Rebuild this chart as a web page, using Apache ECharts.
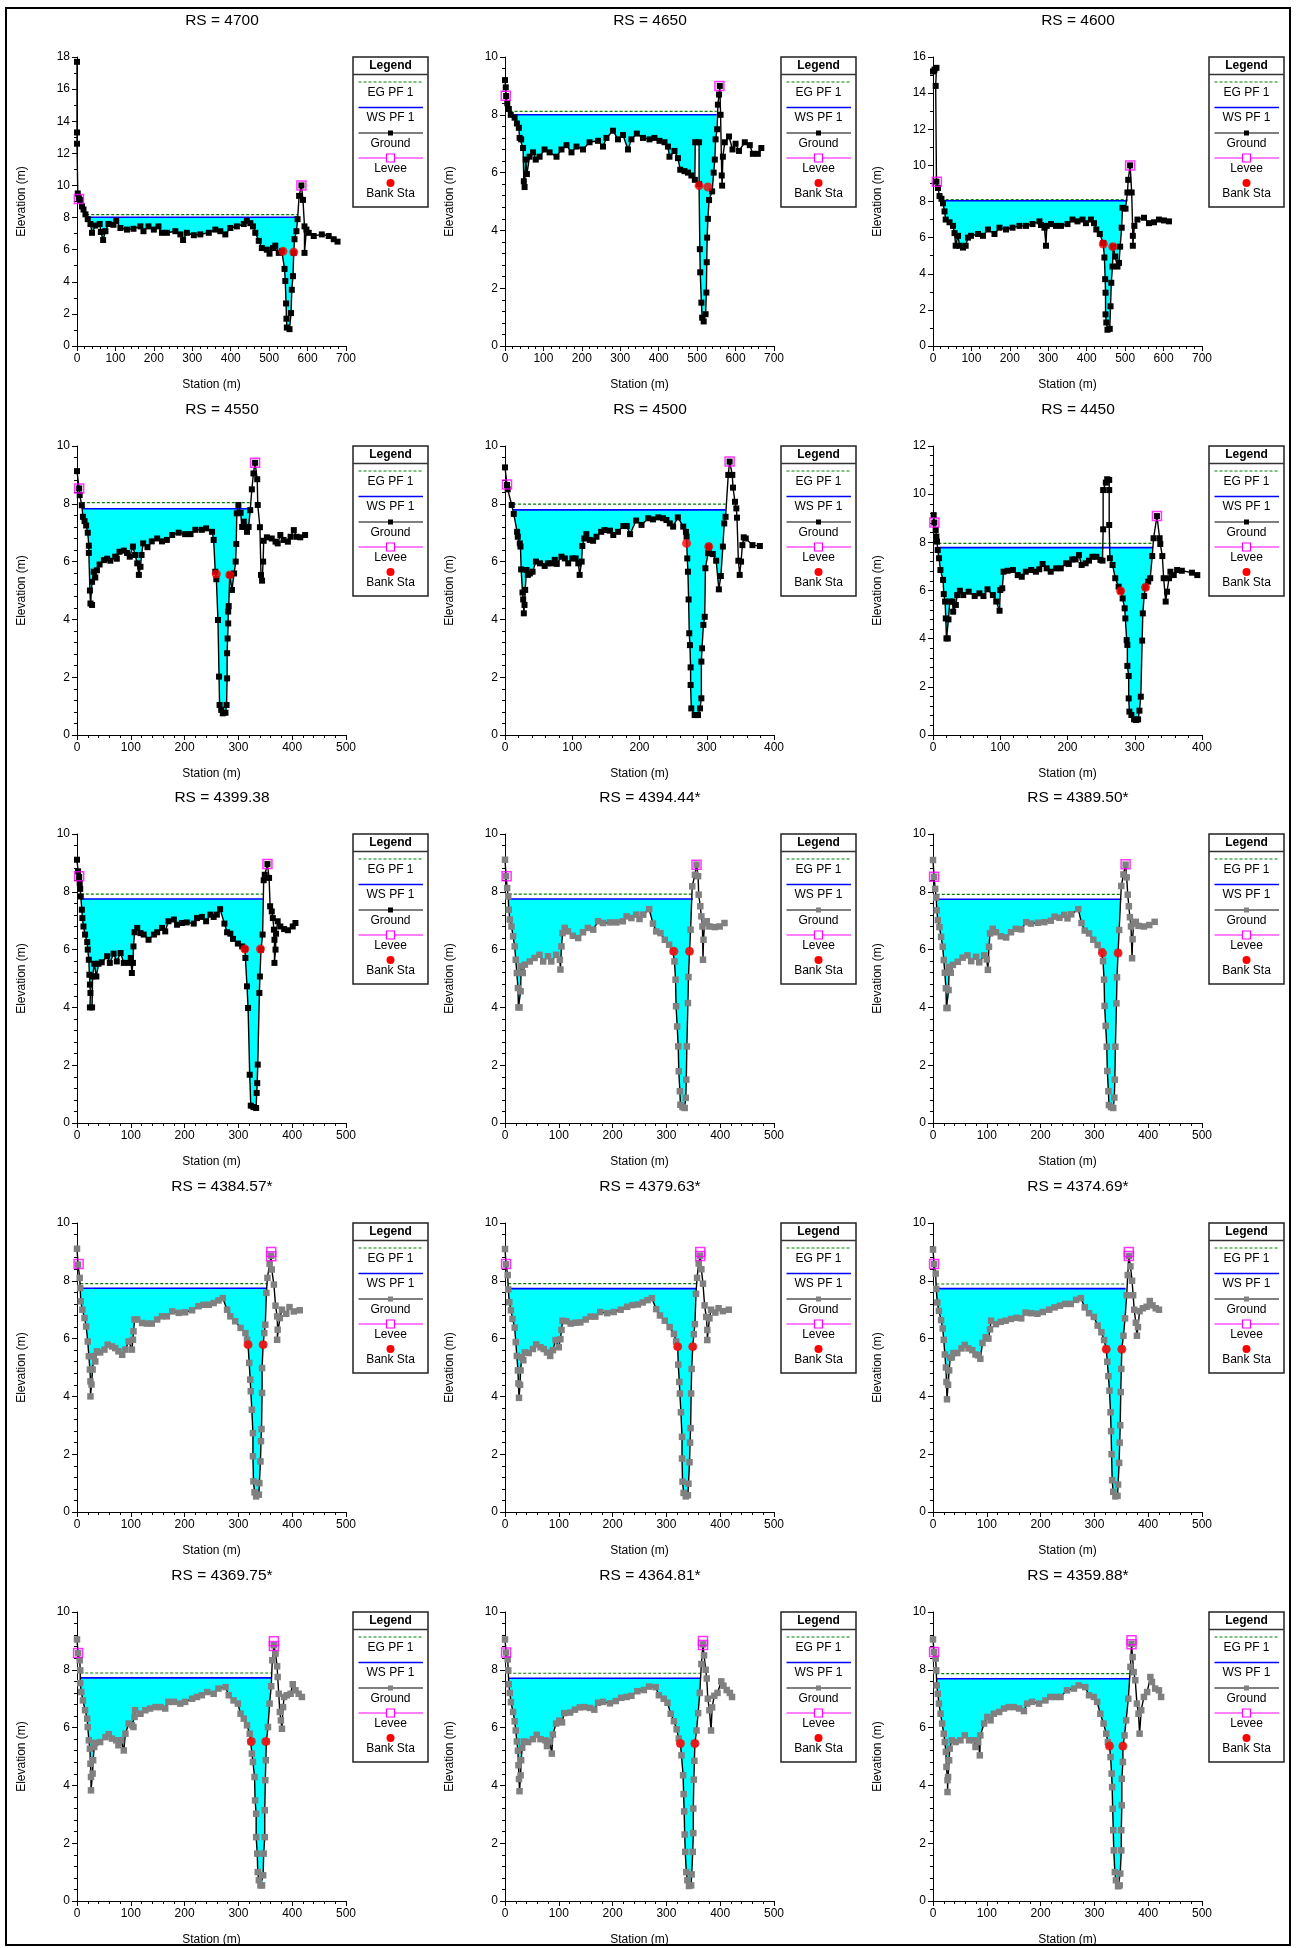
<!DOCTYPE html>
<html><head><meta charset="utf-8">
<script src="https://cdn.jsdelivr.net/npm/echarts@6/dist/echarts.min.js"></script>
<style>html,body{margin:0;padding:0;background:#fff}#c{width:1297px;height:1948px}</style>
</head><body><div id="c"></div>
<script>
// ---------------- DATA ----------------
const titles = ['RS = 4700','RS = 4650','RS = 4600','RS = 4550','RS = 4500','RS = 4450','RS = 4399.38','RS = 4394.44*','RS = 4389.50*','RS = 4384.57*','RS = 4379.63*','RS = 4374.69*','RS = 4369.75*','RS = 4364.81*','RS = 4359.88*'];
const xMaxes = [700,700,700,500,400,400,500,500,500,500,500,500,500,500,500];
const yMaxes = [18,10,16,10,10,12,10,10,10,10,10,10,10,10,10];
const xTicks = [0,100,200,300,400,500,600,700];
const wsLevels = [8.02,8.0,8.04,7.83,7.79,7.78,7.75,7.75,7.74,7.74,7.73,7.73,7.72,7.71,7.69];
const egLevels = [8.18,8.12,8.1,8.04,7.99,7.96,7.92,7.92,7.91,7.9,7.9,7.89,7.89,7.88,7.87];
const wsLefts  = [24,12,20,9,12,8,7,7,7,6,6,6,6,6,6];
const wsRights = [575,551,506,325,328,327,347,349,350,353,356,358,362,363,365];
const interpolated = [false,false,false,false,false,false,false,true,true,true,true,true,true,true,true];

const ground_4700 = [[0,17.7],[0,13.3],[0,12.6],[2,9.5],[5,9.2],[9,9.1],[13,8.7],[17,8.5],[22,8.2],[28,7.9],[35,7.6],[39,7.05],[48,7.5],[59,7.6],[62,7.1],[68,6.6],[74,7.15],[82,7.6],[95,7.55],[102,7.8],[113,7.35],[130,7.25],[147,7.3],[165,7.45],[173,7.15],[186,7.45],[200,7.25],[212,7.45],[221,7.05],[234,7.05],[256,7.15],[269,6.95],[276,6.6],[286,7.05],[304,6.9],[321,6.95],[343,7.05],[360,7.25],[373,7.15],[386,6.95],[399,7.35],[416,7.45],[434,7.6],[442,7.8],[451,7.65],[458,7.45],[464,7.05],[473,6.55],[481,6.1],[494,6.0],[501,5.75],[510,6.1],[516,6.25],[525,5.8],[533,5.9],[540,4.8],[542,4.05],[544,2.65],[545,1.7],[546,1.15],[553,1.05],[557,2.05],[559,3.5],[562,4.35],[564,5.8],[566,6.65],[571,7.15],[574,7.9],[578,9.35],[584,10.0],[588,9.1],[592,7.45],[592,5.8],[597,7.25],[603,7.05],[616,6.85],[637,6.95],[655,6.85],[668,6.65],[678,6.5]];
const ground_4650 = [[0,9.2],[2,8.95],[3,8.65],[6,8.4],[10,8.2],[15,8.0],[25,7.9],[31,7.7],[36,7.55],[38,7.2],[42,7.15],[47,6.85],[49,5.7],[51,5.5],[54,6.45],[57,5.95],[64,6.55],[73,6.7],[80,6.45],[90,6.55],[103,6.8],[116,6.7],[134,6.55],[147,6.8],[160,6.95],[173,6.7],[186,6.9],[203,6.8],[220,7.05],[242,7.1],[255,6.9],[264,7.2],[281,7.45],[294,7.15],[307,7.3],[320,6.8],[329,7.15],[343,7.35],[359,7.2],[376,7.15],[389,7.2],[402,7.1],[415,7.05],[424,6.9],[428,6.55],[441,6.75],[450,6.5],[456,6.1],[467,6.05],[476,6.0],[485,5.9],[494,5.75],[495,7.05],[505,7.05],[505,5.6],[507,3.35],[508,2.55],[511,1.5],[513,0.98],[517,0.85],[522,1.1],[524,1.85],[525,2.9],[526,3.75],[528,4.4],[531,5.05],[539,5.35],[543,6.0],[546,6.45],[548,7.15],[552,7.5],[554,8.35],[557,8.7],[559,9.0],[561,8.0],[564,5.9],[565,5.55],[567,6.55],[572,7.05],[583,7.25],[592,6.8],[600,7.0],[609,6.75],[624,7.05],[637,6.95],[645,6.65],[658,6.65],[667,6.85]];
const ground_4600 = [[0,15.2],[4,15.3],[9,15.4],[7,14.4],[9,9.1],[13,8.75],[17,8.3],[22,8.15],[26,7.9],[30,7.45],[33,7.0],[43,6.85],[52,6.65],[56,6.25],[59,5.55],[65,6.1],[69,5.55],[78,5.45],[85,5.55],[91,6.0],[99,6.1],[117,6.2],[130,6.1],[143,6.45],[160,6.2],[173,6.55],[190,6.45],[207,6.55],[225,6.65],[242,6.65],[259,6.75],[277,6.9],[281,6.7],[290,6.55],[294,5.55],[296,6.65],[307,6.75],[320,6.65],[333,6.65],[350,6.75],[363,7.0],[376,6.9],[389,7.0],[398,6.8],[411,7.0],[419,6.8],[425,6.45],[434,6.2],[443,5.7],[446,4.9],[448,3.7],[449,2.95],[449,1.75],[451,1.3],[454,0.9],[460,0.95],[462,2.2],[464,3.5],[467,4.4],[469,5.5],[474,4.95],[480,4.4],[484,4.6],[487,5.5],[491,6.55],[493,7.65],[501,7.6],[506,8.5],[508,9.2],[513,10.0],[517,8.5],[520,6.1],[520,5.55],[524,6.65],[532,7.0],[549,7.1],[562,6.8],[575,6.85],[588,7.0],[601,6.95],[614,6.9]];
const ground_4550 = [[0,9.13],[4,8.53],[5,8.3],[9,7.95],[11,7.55],[14,7.4],[17,7.25],[20,7.0],[22,6.55],[22,6.3],[24,5.0],[25,4.55],[28,4.5],[28,5.3],[31,5.65],[34,5.45],[37,5.7],[42,5.9],[50,6.05],[56,6.1],[62,6.03],[71,6.17],[74,6.1],[79,6.34],[87,6.38],[93,6.3],[98,6.17],[104,6.52],[108,6.23],[112,5.94],[115,5.54],[118,5.82],[120,6.23],[123,6.63],[131,6.5],[139,6.7],[149,6.8],[158,6.7],[167,6.75],[177,6.92],[189,7.0],[201,6.95],[211,6.95],[220,7.1],[232,7.1],[240,7.15],[251,7.03],[254,6.75],[257,5.65],[259,5.39],[262,3.98],[264,2.02],[265,1.04],[268,0.87],[271,0.75],[276,0.77],[278,1.04],[279,1.96],[279,2.83],[280,3.34],[281,3.86],[281,4.27],[282,4.46],[284,5.54],[288,5.02],[292,5.59],[295,6.0],[296,6.61],[297,7.67],[300,7.96],[304,7.69],[307,7.2],[310,7.38],[313,7.2],[316,7.03],[319,7.2],[322,7.78],[325,8.5],[328,9.05],[331,9.42],[335,8.85],[336,7.96],[340,7.19],[342,5.54],[344,5.34],[346,6.0],[347,6.72],[353,6.84],[362,6.8],[369,6.69],[373,6.63],[378,6.92],[384,6.75],[392,6.69],[397,6.86],[403,7.09],[408,6.86],[415,6.84],[424,6.92]];
const ground_4500 = [[0,9.26],[3,8.65],[4,8.5],[10,7.96],[13,7.65],[18,7.03],[19,6.86],[22,6.63],[23,6.52],[24,5.73],[26,4.93],[27,4.69],[28,4.21],[29,4.5],[30,5.02],[32,5.71],[34,5.54],[37,5.59],[41,5.65],[46,6.0],[52,5.94],[59,5.85],[64,5.94],[69,5.94],[74,6.06],[77,5.92],[84,6.17],[89,6.11],[94,5.94],[100,6.11],[105,6.11],[109,5.94],[111,5.54],[114,6.0],[115,6.54],[118,6.8],[121,6.95],[126,6.75],[131,6.72],[136,6.86],[143,7.03],[148,7.09],[156,7.07],[161,6.92],[168,7.03],[176,7.23],[181,7.23],[186,6.95],[195,7.42],[203,7.27],[213,7.5],[220,7.46],[228,7.53],[235,7.5],[240,7.44],[245,7.32],[250,7.21],[257,7.53],[265,7.21],[269,7.03],[270,6.86],[271,6.11],[272,5.65],[273,4.69],[274,3.52],[275,3.11],[276,2.34],[276,1.73],[277,0.92],[282,0.69],[287,0.69],[290,0.92],[292,1.27],[292,2.54],[293,3.0],[295,3.81],[297,4.09],[298,5.77],[302,6.29],[303,6.52],[309,6.26],[314,6.03],[318,5.04],[321,5.5],[324,6.52],[326,7.32],[328,7.55],[332,9.0],[334,9.46],[338,9.0],[339,8.56],[342,8.07],[344,7.84],[345,7.52],[347,6.03],[349,5.54],[351,6.0],[353,6.57],[355,6.84],[358,6.8],[368,6.57],[379,6.54]];
const ground_4450 = [[1,9.13],[2,8.82],[4,8.51],[5,8.24],[6,8.03],[7,7.68],[9,7.34],[11,6.85],[15,6.44],[16,5.85],[18,5.54],[19,4.84],[20,4.01],[22,4.01],[23,4.8],[25,5.54],[29,5.54],[30,5.12],[34,5.4],[36,5.81],[40,5.99],[45,5.81],[53,5.95],[62,5.77],[69,5.88],[75,5.77],[81,6.05],[89,5.81],[94,5.54],[99,5.16],[100,6.02],[103,6.09],[105,6.78],[111,6.82],[119,6.85],[126,6.64],[132,6.57],[138,6.78],[146,6.85],[153,6.78],[158,6.88],[163,7.1],[169,6.92],[175,6.78],[183,6.92],[190,6.92],[198,7.13],[202,7.1],[207,7.29],[212,7.29],[217,7.47],[221,7.06],[227,7.13],[232,7.24],[237,7.4],[243,7.4],[249,7.27],[252,7.24],[253,8.54],[253,10.17],[257,10.48],[259,10.62],[262,10.59],[262,10.17],[262,8.72],[263,7.34],[267,7.06],[271,6.51],[276,6.16],[279,5.98],[282,5.67],[285,5.26],[286,4.84],[288,3.94],[289,3.74],[289,2.87],[291,2.45],[291,1.52],[292,0.97],[295,0.83],[299,0.65],[302,0.62],[305,0.65],[307,1.01],[309,1.59],[311,3.92],[312,5.05],[314,5.77],[316,6.13],[320,6.37],[323,6.51],[326,7.43],[328,8.17],[333,9.09],[337,8.17],[338,7.93],[341,7.43],[343,6.51],[346,5.54],[348,5.95],[351,6.51],[353,6.78],[358,6.64],[363,6.85],[370,6.82],[385,6.74],[393,6.64]];
const ground_4399 = [[0,9.11],[2,8.71],[4,8.51],[5,8.3],[6,8.1],[7,7.84],[9,7.38],[10,7.09],[12,6.8],[15,6.52],[19,6.26],[20,6.0],[22,5.65],[23,5.13],[24,4.79],[25,4.5],[24,4.0],[28,4.0],[29,5.07],[32,5.51],[36,5.07],[40,5.51],[46,5.56],[56,5.77],[61,5.54],[68,5.86],[74,5.59],[81,5.88],[87,5.54],[96,5.54],[100,5.71],[102,5.19],[104,5.54],[105,6.11],[107,6.6],[112,6.75],[118,6.57],[124,6.52],[133,6.34],[143,6.52],[149,6.6],[158,6.75],[164,6.63],[170,6.98],[180,7.04],[186,6.86],[195,6.92],[204,6.94],[217,6.9],[223,7.09],[232,7.13],[240,6.98],[248,7.21],[254,7.13],[260,7.21],[266,7.4],[274,6.9],[279,6.6],[285,6.55],[290,6.37],[299,6.21],[307,6.11],[312,6.02],[313,5.71],[316,4.73],[318,3.98],[321,1.67],[323,0.6],[328,0.55],[333,0.52],[334,1.04],[335,1.38],[336,2.02],[339,4.5],[340,5.07],[342,6.0],[345,6.52],[347,8.4],[349,8.59],[354,8.96],[357,8.48],[359,7.5],[362,7.32],[364,7.09],[366,6.69],[367,6.34],[367,5.54],[369,6.0],[370,6.55],[373,6.98],[378,6.8],[385,6.71],[392,6.67],[401,6.8],[406,6.92]];
const ground_4394 = [[0,9.11],[2,8.54],[4,8.13],[6,7.84],[7,7.38],[9,7.04],[12,6.8],[15,6.46],[18,6.11],[20,5.65],[22,5.19],[24,4.67],[25,4.0],[27,4.0],[29,4.56],[30,5.42],[33,5.19],[37,5.48],[46,5.59],[55,5.71],[64,5.82],[71,5.59],[80,5.77],[86,5.59],[95,5.82],[102,5.65],[103,5.31],[105,6.11],[107,6.57],[111,6.75],[117,6.63],[126,6.48],[136,6.4],[145,6.6],[154,6.75],[164,6.69],[173,6.98],[182,6.92],[195,6.94],[207,6.94],[219,6.98],[226,7.15],[235,7.09],[244,7.21],[250,7.06],[257,7.21],[268,7.4],[275,6.9],[281,6.63],[289,6.57],[297,6.34],[305,6.17],[312,5.94],[315,5.59],[317,4.96],[318,4.04],[320,3.34],[322,2.65],[323,1.79],[325,1.1],[326,0.63],[330,0.55],[334,0.52],[336,0.87],[337,1.5],[338,2.65],[340,4.15],[341,5.05],[343,5.94],[345,6.69],[348,8.19],[353,8.59],[356,8.94],[359,8.54],[360,7.9],[363,7.5],[365,7.15],[367,6.8],[368,5.65],[369,6.34],[371,6.92],[375,6.98],[380,6.8],[390,6.78],[399,6.8],[408,6.92]];
const ground_4389 = [[0,9.1],[2,8.52],[4,8.1],[6,7.8],[7,7.36],[9,7.02],[12,6.78],[15,6.44],[18,6.1],[20,5.64],[22,5.2],[24,4.66],[25,3.98],[27,3.98],[29,4.6],[30,5.4],[33,5.2],[37,5.47],[46,5.58],[55,5.72],[64,5.8],[71,5.6],[80,5.75],[86,5.56],[95,5.8],[100,5.66],[102,5.3],[104,6.1],[106,6.56],[111,6.72],[117,6.6],[126,6.46],[136,6.42],[145,6.6],[154,6.72],[164,6.7],[173,6.95],[182,6.9],[195,6.93],[207,6.95],[219,7.0],[226,7.14],[235,7.1],[244,7.2],[250,7.08],[257,7.22],[270,7.4],[276,6.92],[282,6.66],[290,6.56],[298,6.34],[306,6.16],[313,5.95],[316,5.6],[318,4.96],[319,4.05],[321,3.36],[323,2.64],[324,1.8],[326,1.1],[327,0.62],[331,0.55],[335,0.52],[337,0.88],[338,1.5],[339,2.64],[341,4.14],[342,5.04],[344,5.9],[346,6.68],[350,8.2],[354,8.6],[358,8.94],[360,8.5],[362,7.9],[364,7.5],[366,7.12],[368,6.8],[370,5.7],[371,6.36],[373,6.9],[377,6.96],[382,6.82],[392,6.8],[402,6.85],[412,6.96]];
const ground_4384 = [[0,9.11],[2,8.56],[5,8.1],[6,7.75],[7,7.29],[10,7.0],[14,6.71],[17,6.42],[20,5.9],[22,5.39],[24,4.93],[25,4.52],[25,4.0],[27,4.41],[29,4.93],[31,5.39],[34,5.21],[37,5.56],[43,5.52],[51,5.62],[57,5.79],[65,5.73],[71,5.67],[77,5.56],[84,5.44],[90,5.62],[96,5.9],[102,5.62],[104,5.96],[105,6.25],[107,6.66],[112,6.66],[121,6.54],[130,6.52],[139,6.52],[149,6.66],[158,6.77],[167,6.77],[177,6.94],[189,6.89],[201,6.91],[214,6.98],[226,7.12],[235,7.17],[245,7.17],[254,7.23],[263,7.32],[271,7.4],[279,7.0],[285,6.77],[294,6.6],[304,6.37],[313,6.19],[316,5.96],[318,5.79],[320,5.16],[322,4.58],[323,4.18],[325,3.54],[327,2.73],[327,1.93],[328,1.06],[330,0.68],[333,0.54],[338,0.6],[339,1.0],[341,1.75],[342,2.45],[343,2.87],[344,4.12],[344,4.98],[346,5.79],[348,6.19],[350,6.48],[352,7.58],[354,8.1],[358,8.59],[361,8.87],[362,8.39],[366,7.87],[369,7.14],[372,6.77],[373,6.31],[372,5.96],[377,6.71],[381,7.0],[389,6.86],[395,7.09],[403,6.94],[414,6.98]];
const ground_4379 = [[0,9.1],[2,8.57],[5,8.2],[6,7.7],[8,7.26],[11,6.98],[14,6.68],[18,6.38],[20,5.88],[22,5.4],[24,4.9],[25,4.45],[26,3.95],[28,4.4],[29,4.9],[31,5.36],[34,5.25],[37,5.52],[44,5.5],[52,5.64],[58,5.8],[66,5.7],[72,5.64],[78,5.52],[84,5.4],[89,5.6],[94,5.95],[100,5.7],[103,5.98],[105,6.3],[107,6.62],[114,6.6],[122,6.52],[131,6.55],[140,6.56],[150,6.66],[159,6.76],[168,6.76],[177,6.92],[190,6.88],[202,6.92],[215,7.0],[227,7.1],[237,7.16],[247,7.18],[256,7.25],[265,7.33],[273,7.4],[281,7.02],[288,6.8],[297,6.62],[306,6.4],[314,6.16],[318,5.9],[321,5.72],[322,5.1],[324,4.5],[325,4.1],[327,3.45],[329,2.6],[329,1.85],[330,1.05],[332,0.66],[336,0.54],[340,0.58],[341,0.98],[343,1.72],[344,2.4],[345,2.9],[346,4.1],[347,4.95],[349,5.72],[351,6.15],[353,6.5],[355,7.55],[357,8.1],[360,8.6],[363,8.87],[365,8.4],[368,7.9],[371,7.15],[374,6.75],[376,6.3],[376,5.95],[380,6.7],[383,7.0],[391,6.9],[397,7.05],[405,6.95],[416,7.0]];
const ground_4374 = [[0,9.08],[2,8.58],[5,8.25],[6,7.72],[8,7.25],[11,6.96],[15,6.64],[18,6.35],[20,5.96],[22,5.45],[24,5.0],[25,4.5],[26,3.9],[28,4.4],[30,4.9],[32,5.34],[35,5.35],[38,5.5],[45,5.5],[53,5.66],[59,5.78],[66,5.66],[73,5.6],[79,5.45],[84,5.42],[88,5.3],[92,5.85],[98,6.05],[103,6.0],[106,6.32],[108,6.62],[117,6.5],[126,6.58],[135,6.62],[145,6.68],[155,6.72],[164,6.7],[172,6.9],[182,6.88],[194,6.86],[204,6.92],[216,7.0],[226,7.08],[236,7.14],[246,7.2],[256,7.2],[266,7.34],[275,7.4],[282,7.08],[290,6.88],[299,6.75],[306,6.45],[313,6.22],[318,5.95],[322,5.65],[324,5.2],[326,4.7],[328,4.2],[330,3.45],[331,2.8],[332,2.0],[333,1.1],[335,0.7],[339,0.54],[343,0.56],[344,0.95],[346,1.7],[347,2.4],[348,3.0],[349,4.15],[350,4.95],[351,5.65],[354,6.1],[357,6.7],[360,7.5],[362,8.2],[364,8.86],[367,8.5],[370,8.0],[372,7.5],[374,7.0],[377,6.55],[379,6.1],[381,6.4],[384,6.95],[390,7.05],[397,7.1],[403,7.3],[408,7.15],[414,7.05],[420,7.0]];
const ground_4369 = [[0,9.05],[2,8.58],[5,8.33],[6,7.98],[6,7.54],[8,7.23],[11,6.94],[15,6.6],[19,6.31],[20,6.02],[22,5.56],[24,5.27],[25,4.75],[26,4.29],[26,3.83],[29,4.41],[30,4.87],[32,5.33],[34,5.47],[43,5.5],[53,5.67],[59,5.77],[65,5.62],[73,5.56],[77,5.39],[82,5.56],[87,5.21],[90,5.79],[96,6.14],[102,6.08],[105,6.02],[107,6.37],[108,6.6],[118,6.48],[127,6.6],[136,6.66],[146,6.71],[155,6.71],[164,6.66],[170,6.89],[180,6.89],[192,6.83],[201,6.89],[214,7.0],[223,7.06],[232,7.12],[242,7.23],[254,7.17],[263,7.35],[276,7.4],[282,7.12],[291,6.94],[299,6.83],[304,6.48],[310,6.31],[316,6.08],[321,5.79],[323,5.5],[325,5.1],[327,4.81],[330,4.29],[331,3.48],[333,3.02],[333,2.21],[335,1.64],[336,1.0],[338,0.72],[341,0.54],[344,0.54],[346,0.89],[347,1.64],[349,2.21],[349,3.14],[350,4.18],[351,4.87],[352,5.52],[355,6.02],[358,6.83],[361,7.43],[363,8.33],[366,8.85],[369,8.56],[372,8.12],[373,7.75],[375,7.17],[377,6.54],[379,6.25],[381,5.96],[383,6.71],[385,7.06],[390,7.12],[397,7.17],[401,7.5],[406,7.29],[412,7.17],[418,7.06]];
const ground_4364 = [[0,9.05],[2,8.6],[5,8.36],[6,7.98],[7,7.5],[9,7.2],[11,6.88],[15,6.54],[18,6.22],[20,5.9],[22,5.52],[24,5.2],[25,4.7],[26,4.22],[27,3.8],[29,4.35],[30,4.87],[32,5.3],[35,5.52],[43,5.5],[52,5.6],[59,5.75],[66,5.6],[75,5.56],[78,5.36],[83,5.52],[87,5.1],[89,5.76],[95,6.14],[101,6.24],[106,6.18],[110,6.5],[121,6.52],[130,6.62],[139,6.7],[148,6.71],[158,6.68],[166,6.62],[173,6.86],[182,6.89],[195,6.84],[206,6.92],[216,7.03],[226,7.06],[235,7.1],[246,7.26],[258,7.3],[268,7.42],[280,7.4],[286,7.12],[295,7.0],[302,6.86],[308,6.48],[314,6.22],[319,5.94],[323,5.62],[326,5.45],[328,5.04],[331,4.35],[332,3.7],[333,3.1],[334,2.3],[335,1.7],[337,1.0],[339,0.72],[342,0.52],[346,0.54],[347,0.92],[349,1.7],[350,2.35],[350,3.2],[351,4.2],[352,4.85],[353,5.45],[356,5.9],[359,6.5],[362,7.2],[365,8.2],[368,8.88],[370,8.5],[373,8.0],[375,7.7],[377,7.0],[380,6.6],[383,5.9],[385,6.7],[389,7.1],[395,7.2],[402,7.6],[406,7.45],[412,7.3],[418,7.2],[422,7.06]];
const ground_4359 = [[0,9.05],[2,8.62],[5,8.39],[6,7.98],[7,7.46],[9,7.17],[11,6.83],[14,6.48],[17,6.14],[20,5.79],[22,5.5],[24,5.16],[25,4.64],[27,4.18],[27,3.77],[28,4.29],[30,4.87],[31,5.27],[35,5.56],[42,5.5],[51,5.56],[59,5.73],[67,5.56],[76,5.56],[79,5.33],[84,5.5],[87,5.04],[88,5.73],[95,6.14],[101,6.37],[107,6.25],[113,6.48],[123,6.54],[132,6.66],[141,6.71],[150,6.71],[160,6.66],[169,6.57],[175,6.83],[184,6.89],[197,6.83],[209,6.94],[218,7.06],[228,7.06],[237,7.06],[249,7.29],[262,7.35],[271,7.46],[283,7.4],[290,7.12],[299,7.06],[305,6.89],[311,6.48],[317,6.14],[322,5.79],[325,5.5],[328,5.39],[330,4.98],[332,4.41],[333,3.94],[334,3.19],[335,2.45],[336,1.75],[338,1.0],[340,0.72],[344,0.51],[347,0.54],[348,0.95],[350,1.75],[350,2.45],[351,3.31],[351,4.23],[353,4.81],[353,5.36],[356,5.73],[359,6.25],[363,7.0],[367,8.1],[369,8.9],[371,8.44],[373,7.92],[376,7.64],[379,6.83],[382,6.48],[384,5.79],[387,6.6],[392,7.06],[398,7.23],[404,7.75],[407,7.58],[413,7.35],[420,7.29],[424,7.06]];

const levee_4700 = [[5,9.15],[584,10.0]];
const levee_4650 = [[2,8.66],[558,9.0]];
const levee_4600 = [[10,9.1],[513,10.0]];
const levee_4550 = [[4,8.53],[331,9.42]];
const levee_4500 = [[3,8.67],[334,9.46]];
const levee_4450 = [[2,8.82],[333,9.09]];
const levee_4399 = [[4,8.54],[354,8.96]];
const levee_4394 = [[3,8.54],[356,8.94]];
const levee_4389 = [[2,8.52],[358,8.95]];
const levee_4384 = [[3,8.58],[361,9.0],[361,8.85]];
const levee_4379 = [[2,8.58],[363,9.0],[363,8.86]];
const levee_4374 = [[2,8.58],[364,9.0],[364,8.86]];
const levee_4369 = [[2,8.58],[366,8.99],[366,8.82]];
const levee_4364 = [[2,8.6],[368,9.0],[368,8.86]];
const levee_4359 = [[2,8.62],[369,9.02],[369,8.88]];

const bank_4700 = [[536,5.9],[564,5.85]];
const bank_4650 = [[505,5.55],[528,5.5]];
const bank_4600 = [[443,5.65],[468,5.5]];
const bank_4550 = [[259,5.57],[284,5.54]];
const bank_4500 = [[270,6.63],[303,6.52]];
const bank_4450 = [[279,5.98],[316,6.13]];
const bank_4399 = [[312,6.02],[341,6.02]];
const bank_4394 = [[314,5.94],[343,5.94]];
const bank_4389 = [[315,5.88],[344,5.88]];
const bank_4384 = [[318,5.79],[346,5.79]];
const bank_4379 = [[321,5.72],[349,5.72]];
const bank_4374 = [[322,5.63],[351,5.63]];
const bank_4369 = [[324,5.52],[351,5.52]];
const bank_4364 = [[326,5.45],[353,5.45]];
const bank_4359 = [[328,5.36],[353,5.36]];

const grounds = [ground_4700,ground_4650,ground_4600,ground_4550,ground_4500,ground_4450,ground_4399,ground_4394,ground_4389,ground_4384,ground_4379,ground_4374,ground_4369,ground_4364,ground_4359];
const levees  = [levee_4700,levee_4650,levee_4600,levee_4550,levee_4500,levee_4450,levee_4399,levee_4394,levee_4389,levee_4384,levee_4379,levee_4374,levee_4369,levee_4364,levee_4359];
const banks   = [bank_4700,bank_4650,bank_4600,bank_4550,bank_4500,bank_4450,bank_4399,bank_4394,bank_4389,bank_4384,bank_4379,bank_4374,bank_4369,bank_4364,bank_4359];

// ---------------- LAYOUT ----------------
const FONT = '"Liberation Sans", Arial, Helvetica, sans-serif';
const colLeft = [77, 505, 933];
const rowTop = [57, 446, 834, 1223, 1612];
const GW = 269, GH = 289;

// wet-area polygon (between water surface and ground) in data space
function wetPolygon(ground, ws, xl, xr) {
  const pts = [[xl, ws]];
  const push = (p) => pts.push([p[0], Math.min(p[1], ws)]);
  for (let k = 0; k < ground.length - 1; k++) {
    const [x1, y1] = ground[k], [x2, y2] = ground[k + 1];
    const lo = Math.min(x1, x2), hi = Math.max(x1, x2);
    if (hi < xl || lo > xr) continue;
    const f = (x) => (x1 === x2 ? y1 : y1 + (y2 - y1) * (x - x1) / (x2 - x1));
    let p = [x1, y1], q = [x2, y2];
    if (x1 < xl) p = [xl, f(xl)]; else if (x1 > xr) p = [xr, f(xr)];
    if (x2 < xl) q = [xl, f(xl)]; else if (x2 > xr) q = [xr, f(xr)];
    push(p);
    if ((p[1] - ws) * (q[1] - ws) < 0) {
      const t = (ws - p[1]) / (q[1] - p[1]);
      pts.push([p[0] + t * (q[0] - p[0]), ws]);
    }
    push(q);
  }
  pts.push([xr, ws]);
  return pts;
}

const option = {
  animation: false,
  backgroundColor: '#ffffff',
  textStyle: { fontFamily: FONT },
  grid: [], xAxis: [], yAxis: [], series: [],
  graphic: { elements: [] }
};
const G = option.graphic.elements;

G.push({ type: 'rect', shape: { x: 6, y: 8, width: 1284, height: 1937 }, style: { fill: 'none', stroke: '#000', lineWidth: 2 }, z: 10 });

for (let i = 0; i < titles.length; i++) {
  const gl = colLeft[i % 3], gt = rowTop[Math.floor(i / 3)];
  const interp = interpolated[i];
  const markerColor = interp ? '#808080' : '#000000';

  option.grid.push({ left: gl, top: gt, width: GW, height: GH, containLabel: false });
  option.xAxis.push({
    gridIndex: i, type: 'value', min: 0, max: xMaxes[i], interval: 100,
    name: 'Station (m)', nameLocation: 'middle', nameGap: 33,
    nameTextStyle: { fontSize: 12, color: '#000', fontFamily: FONT },
    axisLine: { show: true, onZero: false, lineStyle: { color: '#000', width: 1 } },
    axisTick: { show: true, length: 5, lineStyle: { color: '#000' } },
    minorTick: { show: true, splitNumber: 5, length: 3, lineStyle: { color: '#000' } },
    splitLine: { show: false },
    axisLabel: { fontSize: 12, color: '#000', margin: 7, fontFamily: FONT,
      formatter: (v) => (xTicks.indexOf(v) >= 0 ? String(v) : '') }
  });
  option.yAxis.push({
    gridIndex: i, type: 'value', min: 0, max: yMaxes[i], interval: 2,
    name: 'Elevation (m)', nameLocation: 'middle', nameGap: 49, nameRotate: 90,
    nameTextStyle: { fontSize: 12, color: '#000', fontFamily: FONT },
    axisLine: { show: true, onZero: false, lineStyle: { color: '#000', width: 1 } },
    axisTick: { show: true, length: 5, lineStyle: { color: '#000' } },
    minorTick: { show: true, splitNumber: yMaxes[i] >= 16 ? 2 : 5, length: 3, lineStyle: { color: '#000' } },
    splitLine: { show: false },
    axisLabel: { fontSize: 12, color: '#000', margin: 7, fontFamily: FONT }
  });

  const ws = wsLevels[i], eg = egLevels[i], xl = wsLefts[i], xr = wsRights[i];
  const poly = wetPolygon(grounds[i], ws, xl, xr);

  option.series.push({
    type: 'custom', xAxisIndex: i, yAxisIndex: i, z: 1, silent: true,
    data: poly,
    renderItem: function (params, api) {
      if (params.dataIndex !== 0) return null;
      return { type: 'polygon', shape: { points: poly.map((p) => api.coord(p)) }, style: { fill: '#00FFFF', stroke: null } };
    }
  });
  option.series.push({
    name: 'EG PF 1', type: 'line', xAxisIndex: i, yAxisIndex: i, z: 2, silent: true,
    data: [[xl, eg], [xr, eg]], symbol: 'none',
    lineStyle: { color: '#008000', width: 1.2, type: [3, 2] }
  });
  option.series.push({
    name: 'WS PF 1', type: 'line', xAxisIndex: i, yAxisIndex: i, z: 3, silent: true,
    data: [[xl, ws], [xr, ws]], symbol: 'none',
    lineStyle: { color: '#0000FF', width: 1.6 }
  });
  option.series.push({
    name: 'Ground', type: 'line', xAxisIndex: i, yAxisIndex: i, z: 4, silent: true,
    data: grounds[i], symbol: 'rect', symbolSize: interp ? 6.5 : 6, showSymbol: true, showAllSymbol: true,
    itemStyle: { color: markerColor, borderWidth: 0 },
    lineStyle: { color: '#000', width: 1.4 }
  });
  option.series.push({
    name: 'Levee', type: 'scatter', xAxisIndex: i, yAxisIndex: i, z: 5, silent: true,
    data: levees[i], symbol: 'rect', symbolSize: 9,
    itemStyle: { color: 'rgba(0,0,0,0)', borderColor: '#FF00FF', borderWidth: 1.5 }
  });
  option.series.push({
    name: 'Bank Sta', type: 'scatter', xAxisIndex: i, yAxisIndex: i, z: 6, silent: true,
    data: banks[i], symbol: 'circle', symbolSize: 9,
    itemStyle: { color: '#FF0000' }
  });

  // title
  G.push({ type: 'text', x: gl + 145, y: gt - 36, style: { text: titles[i], font: '15.5px ' + FONT, fill: '#000', textAlign: 'center', textVerticalAlign: 'middle' } });

  // legend box
  const lx = gl + 276, ly = gt, lw = 75, cx = lx + lw / 2;
  G.push({ type: 'rect', shape: { x: lx, y: ly, width: lw, height: 150 }, style: { fill: '#fff', stroke: '#222', lineWidth: 1.5 } });
  G.push({ type: 'text', x: cx, y: ly + 8.5, style: { text: 'Legend', font: 'bold 12px ' + FONT, fill: '#000', textAlign: 'center', textVerticalAlign: 'middle' } });
  G.push({ type: 'line', shape: { x1: lx, y1: ly + 17.5, x2: lx + lw, y2: ly + 17.5 }, style: { stroke: '#333', lineWidth: 1.5 } });
  const lab = (t, y) => G.push({ type: 'text', x: cx, y: y, style: { text: t, font: '12px ' + FONT, fill: '#000', textAlign: 'center', textVerticalAlign: 'middle' } });
  G.push({ type: 'line', shape: { x1: lx + 5.5, y1: ly + 25, x2: lx + 70, y2: ly + 25 }, style: { stroke: '#008000', lineWidth: 1.2, lineDash: [3, 2] } });
  lab('EG PF 1', ly + 36);
  G.push({ type: 'line', shape: { x1: lx + 5.5, y1: ly + 50.5, x2: lx + 70, y2: ly + 50.5 }, style: { stroke: '#0000FF', lineWidth: 1.4 } });
  lab('WS PF 1', ly + 60.5);
  G.push({ type: 'line', shape: { x1: lx + 5.5, y1: ly + 76, x2: lx + 70, y2: ly + 76 }, style: { stroke: '#000', lineWidth: 1.2 } });
  G.push({ type: 'rect', shape: { x: cx - 2.5, y: ly + 73.5, width: 5, height: 5 }, style: { fill: markerColor } });
  lab('Ground', ly + 86.5);
  G.push({ type: 'line', shape: { x1: lx + 5.5, y1: ly + 101, x2: lx + 70, y2: ly + 101 }, style: { stroke: '#FF00FF', lineWidth: 1.2 } });
  G.push({ type: 'rect', shape: { x: cx - 4, y: ly + 97, width: 8, height: 8 }, style: { fill: '#fff', stroke: '#FF00FF', lineWidth: 1.2 } });
  lab('Levee', ly + 111.5);
  G.push({ type: 'circle', shape: { cx: cx, cy: ly + 126, r: 4 }, style: { fill: '#FF0000' } });
  lab('Bank Sta', ly + 136.5);
}

const chart = echarts.init(document.getElementById('c'), null, { renderer: 'canvas', width: 1297, height: 1948 });
chart.setOption(option);
</script></body></html>
